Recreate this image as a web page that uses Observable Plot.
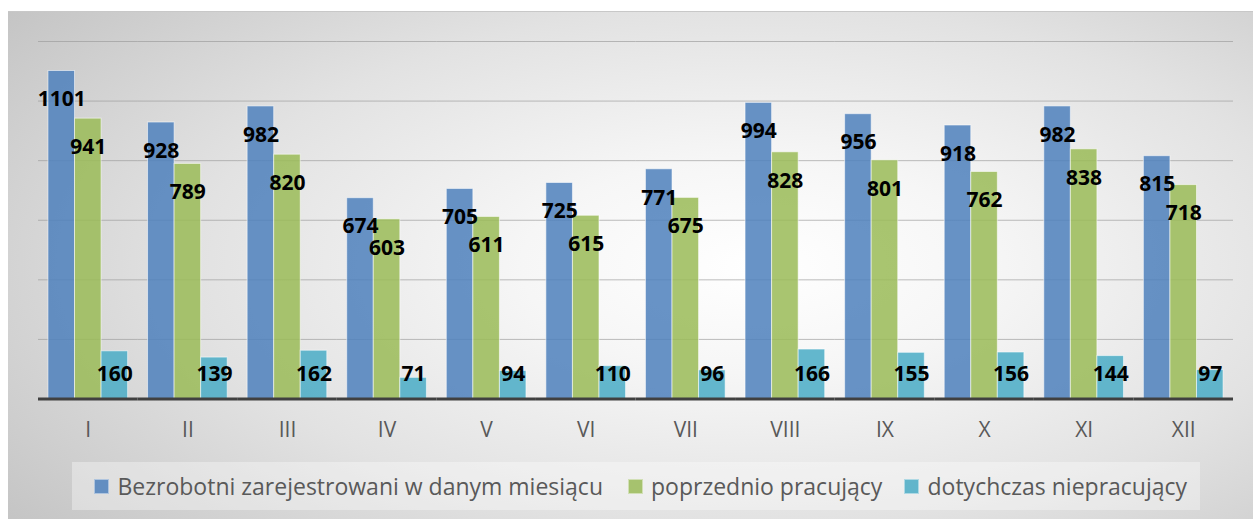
<!DOCTYPE html>
<html>
<head>
<meta charset="utf-8">
<script src="https://cdn.jsdelivr.net/npm/d3@7"></script>
<script src="https://cdn.jsdelivr.net/npm/@observablehq/plot@0.6"></script>
<style>
  html, body { margin: 0; padding: 0; background: #ffffff; }
  #wrap { position: relative; width: 1253px; height: 519px; overflow: hidden; background: #ffffff; }
  #frame {
    position: absolute; left: 8px; top: 11px; width: 1245px; height: 508px;
    background: radial-gradient(ellipse 75% 85% at 60% 50%, #ffffff 0%, #f6f6f6 25%, #e2e2e2 60%, #c4c4c4 100%);
    border-top: 1px solid #c8c8c8;
    box-sizing: border-box;
  }
  #chart { position: absolute; left: 0; top: 0; }
  #legend {
    position: absolute; left: 72px; top: 462px; width: 1128px; height: 48px;
    background: rgba(255,255,255,0.35);
    display: flex; align-items: center; box-sizing: border-box; padding-left: 22px;
    font-family: "Open Sans", sans-serif; font-size: 23px; color: #595959;
  }
  .item { display: flex; align-items: center; white-space: nowrap; box-sizing: border-box; }
  .sw { width: 15px; height: 15px; margin-right: 8.5px; box-sizing: border-box; border: 1px solid rgba(255,255,255,0.5); flex: none; }
</style>
</head>
<body>
<div id="wrap">
  <div id="frame"></div>
  <div id="chart"></div>
  <div id="legend"></div>
</div>
<script>
const months = ["I","II","III","IV","V","VI","VII","VIII","IX","X","XI","XII"];
const seriesNames = ["Bezrobotni zarejestrowani w danym miesiącu", "poprzednio pracujący", "dotychczas niepracujący"];
const seriesColors = ["#4f81bd", "#9bbb59", "#4bacc6"];
const registered  = [1101, 928, 982, 674, 705, 725, 771, 994, 956, 918, 982, 815];
const prevWorking = [941, 789, 820, 603, 611, 615, 675, 828, 801, 762, 838, 718];
const neverWorked = [160, 139, 162, 71, 94, 110, 96, 166, 155, 156, 144, 97];
const gridTicks = [200, 400, 600, 800, 1000, 1200];

const seriesValues = [registered, prevWorking, neverWorked];
const data = [];
months.forEach((m, i) => {
  seriesNames.forEach((s, k) => {
    data.push({month: m, series: s, value: seriesValues[k][i], k});
  });
});
const topLabels = data.filter(d => d.k < 2);
const baseLabels = data.filter(d => d.k === 2);

const chart = Plot.plot({
  width: 1253,
  height: 450,
  marginLeft: 38,
  marginRight: 20,
  marginTop: 41,
  marginBottom: 51.5,
  style: {background: "transparent", fontFamily: "'Open Sans', sans-serif", fontSize: "21px", color: "#595959", overflow: "visible"},
  fx: {domain: months, padding: 0, round: false, axis: "bottom", label: null, tickSize: 0, tickPadding: 23},
  x: {domain: seriesNames, paddingInner: 0, paddingOuter: 0.375, round: false, axis: null},
  y: {domain: [0, 1200], axis: null},
  color: {domain: seriesNames, range: seriesColors},
  marks: [
    Plot.ruleY(gridTicks, {stroke: "#9a9a9a", strokeOpacity: 0.65, strokeWidth: 1}),
    Plot.barY(data, {fx: "month", x: "series", y: "value", fill: "series", fillOpacity: 0.86, stroke: "#ffffff", strokeOpacity: 0.55, strokeWidth: 1}),
    Plot.ruleY([0], {stroke: "#404040", strokeWidth: 3}),
    Plot.text(topLabels, {fx: "month", x: "series", y: "value", text: d => String(d.value), dy: 28.5, fontSize: 21, fontWeight: "bold", fill: "#000000", fontFamily: "'Open Sans', sans-serif"}),
    Plot.text(baseLabels, {fx: "month", x: "series", y: () => 0, text: d => String(d.value), dy: -24.5, fontSize: 21, fontWeight: "bold", fill: "#000000", fontFamily: "'Open Sans', sans-serif"})
  ]
});
document.getElementById("chart").appendChild(chart);

const legendItemWidths = ["533.5px", "276.5px", "auto"];
const legend = document.getElementById("legend");
seriesNames.forEach((s, k) => {
  const it = document.createElement("div");
  it.className = "item";
  it.style.width = legendItemWidths[k];
  const sw = document.createElement("div");
  sw.className = "sw";
  sw.style.background = seriesColors[k];
  sw.style.opacity = 0.86;
  const tx = document.createElement("span");
  tx.textContent = s;
  it.appendChild(sw);
  it.appendChild(tx);
  legend.appendChild(it);
});
</script>
</body>
</html>
